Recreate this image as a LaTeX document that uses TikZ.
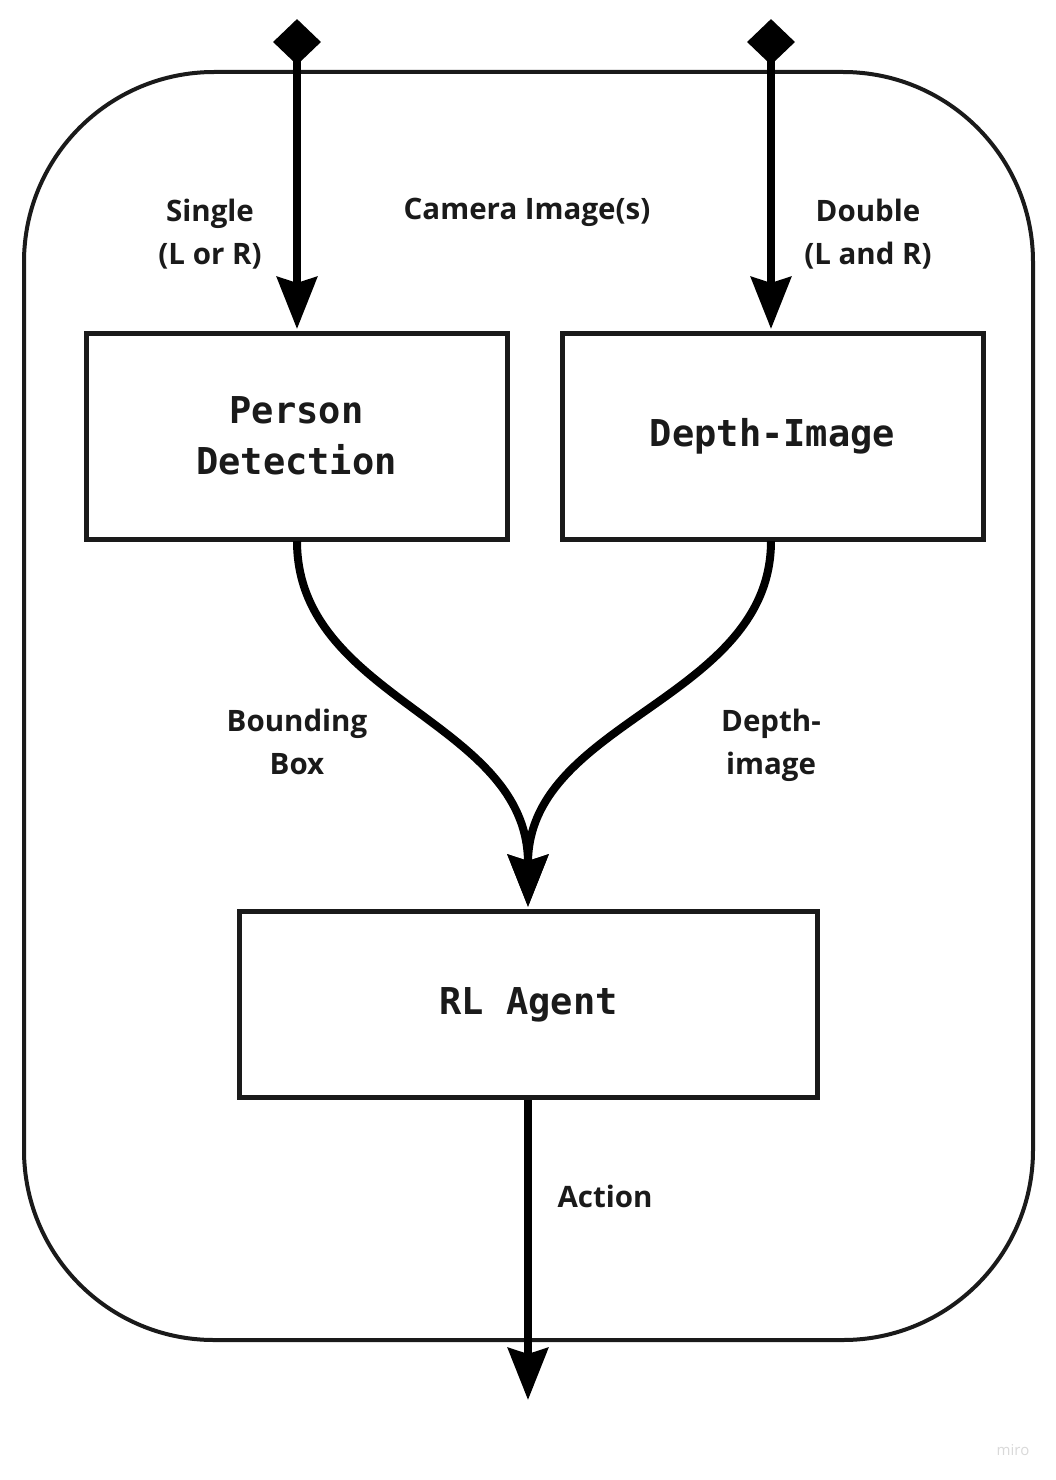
\documentclass[tikz,border=0pt]{standalone}
\usepackage{fontspec}
\usetikzlibrary{arrows.meta,shapes.geometric}
\newfontfamily\labfont{Open Sans}
\newfontfamily\monofont{DejaVu Sans Mono}
\definecolor{ink}{HTML}{1A1A1A}
\tikzset{
  arr/.style={line width=8pt, draw=black, -{Stealth[length=52pt, width=40pt, inset=6pt]}},
  boxnode/.style={draw=ink, line width=5pt, inner sep=0pt, outer sep=0pt, align=center,
    font=\monofont\bfseries\fontsize{37}{51}\selectfont, text=ink},
  lab/.style={font=\labfont\bfseries\fontsize{29.5}{43}\selectfont, text=ink, align=center},
  srcnode/.style={shape=diamond, fill=black, inner sep=0pt, minimum width=48pt, minimum height=46pt}
}
\begin{document}
\begin{tikzpicture}[x=1pt,y=-1pt]
\useasboundingbox (0,0) rectangle (1055,1480);
\fill[white] (0,0) rectangle (1055,1480);
% outer container
\draw[ink, line width=4pt, rounded corners=190pt] (24,72) rectangle (1033,1340);
% boxes
\node[boxnode, minimum width=421pt, minimum height=206pt] (pd) at (296.5,436) {Person\\Detection};
\node[boxnode, minimum width=421pt, minimum height=206pt] (di) at (772.5,436) {Depth-Image};
\node[boxnode, minimum width=578pt, minimum height=186pt] (rl) at (528.5,1004.5) {RL Agent};
% sources
\node[srcnode] (s1) at (297,42) {};
\node[srcnode] (s2) at (771,42) {};
\coordinate (pdin) at (297,329);
\coordinate (diin) at (771,329);
\coordinate (pdout) at (297,541);
\coordinate (diout) at (771,541);
\coordinate (rlin) at (528,907);
\coordinate (rlout) at (528,1100);
\coordinate (act) at (528,1400);
\draw[arr] (s1.center) -- (pdin);
\draw[arr] (s2.center) -- (diin);
\draw[arr] (pdout) .. controls (297,700) and (528,720) .. (rlin);
\draw[arr] (diout) .. controls (771,700) and (528,720) .. (rlin);
\draw[arr] (rlout) -- (act);
% labels
\node[lab] (l1) at (210,234) {Single\\(L or R)};
\node[lab] (l2) at (527,212) {Camera Image(s)};
\node[lab] (l3) at (868,234) {Double\\(L and R)};
\node[lab] (l4) at (297,742) {Bounding\\Box};
\node[lab] (l5) at (771,745) {Depth-\\image};
\node[lab] (l6) at (605,1196) {Action};
\node[font=\labfont\fontsize{15}{16}\selectfont, text=black!15] (miro) at (1013,1450) {miro};
\end{tikzpicture}
\end{document}
